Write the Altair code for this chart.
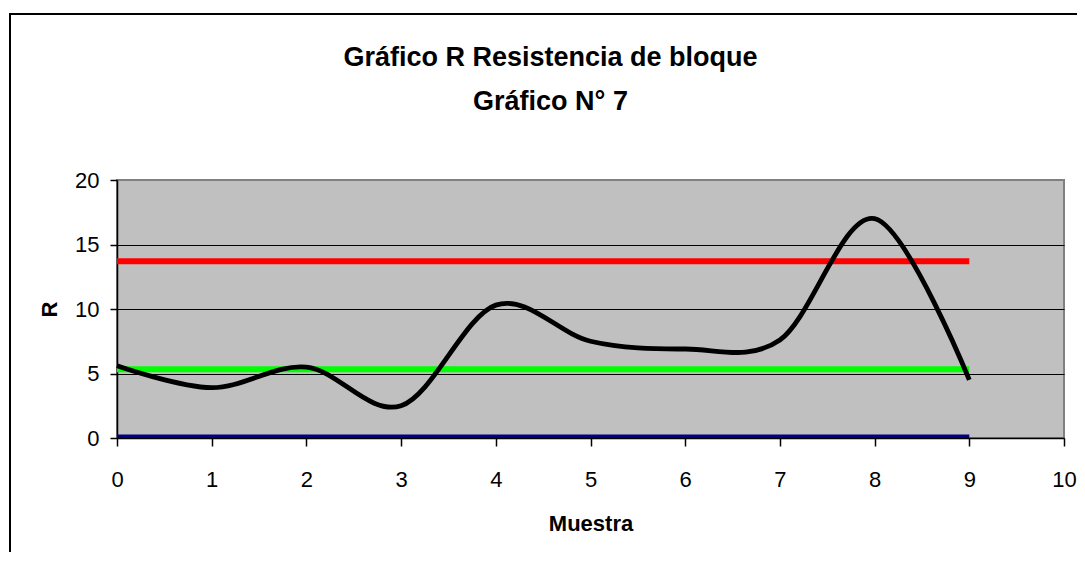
import altair as alt
import pandas as pd

# ---- data ----
muestra = [0, 1, 2, 3, 4, 5, 6, 7, 8, 9]
r_valores = [5.6, 3.9, 5.5, 2.5, 10.3, 7.5, 6.9, 7.6, 17.0, 4.5]
lcs = [13.7, 13.7, 13.7, 13.7, 13.7, 13.7, 13.7, 13.7, 13.7, 13.7]
lc = [5.33, 5.33, 5.33, 5.33, 5.33, 5.33, 5.33, 5.33, 5.33, 5.33]
lci = [0.0, 0.0, 0.0, 0.0, 0.0, 0.0, 0.0, 0.0, 0.0, 0.0]

x_ticks = [0, 1, 2, 3, 4, 5, 6, 7, 8, 9, 10]
y_ticks = [0, 5, 10, 15, 20]

rows = []
for serie, vals in [("LCI", lci), ("LC", lc), ("LCS", lcs), ("R", r_valores)]:
    for m, v in zip(muestra, vals):
        rows.append({"Muestra": m, "valor": v, "serie": serie})
df = pd.DataFrame(rows)

FONT = "Liberation Sans"

x_enc = alt.X(
    "Muestra:Q",
    scale=alt.Scale(domain=[0, 10], nice=False, zero=False),
    axis=alt.Axis(
        values=x_ticks, title="Muestra", grid=False, zindex=1,
        tickSize=8, labelPadding=23, titlePadding=23,
    ),
)
y_enc = alt.Y(
    "valor:Q",
    scale=alt.Scale(domain=[0, 20], nice=False),
    axis=alt.Axis(
        values=y_ticks, title="R", grid=True,
        gridColor={"condition": {"test": "datum.value >= 20", "value": "#808080"}, "value": "#000000"},
        gridWidth=1.2, tickSize=7, labelPadding=11, titlePadding=13,
    ),
)

base = alt.Chart(df)

def serie_layer(name, color, width, clip=False):
    return base.mark_line(color=color, strokeWidth=width, clip=clip).encode(
        x=x_enc, y=y_enc
    ).transform_filter(alt.datum.serie == name)

lci_layer = serie_layer("LCI", "#000080", 7, clip=True)
lc_layer = serie_layer("LC", "#00FF00", 6)
lcs_layer = serie_layer("LCS", "#FF0000", 6)
r_layer = base.mark_line(color="#000000", strokeWidth=4.8, interpolate="cardinal").encode(
    x=x_enc, y=y_enc
).transform_filter(alt.datum.serie == "R")

one = alt.Data(values=[{}])
border_top = alt.Chart(one).mark_rule(color="#000000", strokeWidth=2).encode(
    x=alt.value(-107), x2=alt.value(1300), y=alt.value(-166)
)
border_left = alt.Chart(one).mark_rule(color="#000000", strokeWidth=2).encode(
    x=alt.value(-107), y=alt.value(-167), y2=alt.value(700)
)

chart = alt.layer(
    lci_layer, lc_layer, lcs_layer, r_layer, border_top, border_left
).properties(
    width=947,
    height=258,
    padding={"left": 109, "top": 172, "right": 13, "bottom": 114},
    autosize=alt.AutoSizeParams(type="none"),
    background="#FFFFFF",
    title=alt.TitleParams(
        text=["Gráfico R Resistencia de bloque", "Gráfico N° 7"],
        font=FONT, fontSize=27, fontWeight="bold", color="#000000",
        anchor="middle", frame="group", dx=-40, offset=0, dy=104, lineHeight=44,
    ),
).configure_view(
    fill="#C0C0C0", stroke="#808080", strokeWidth=2
).configure_axis(
    labelFont=FONT, labelFontSize=22, labelColor="#000000",
    titleFont=FONT, titleFontSize=22, titleFontWeight="bold", titleColor="#000000",
    domainColor="#000000", domainWidth=1.5, tickColor="#000000", tickWidth=1.5,
    labelFlush=False, labelOverlap=False,
)

chart.save("out.html", embed_options={"renderer": "svg", "actions": False})
